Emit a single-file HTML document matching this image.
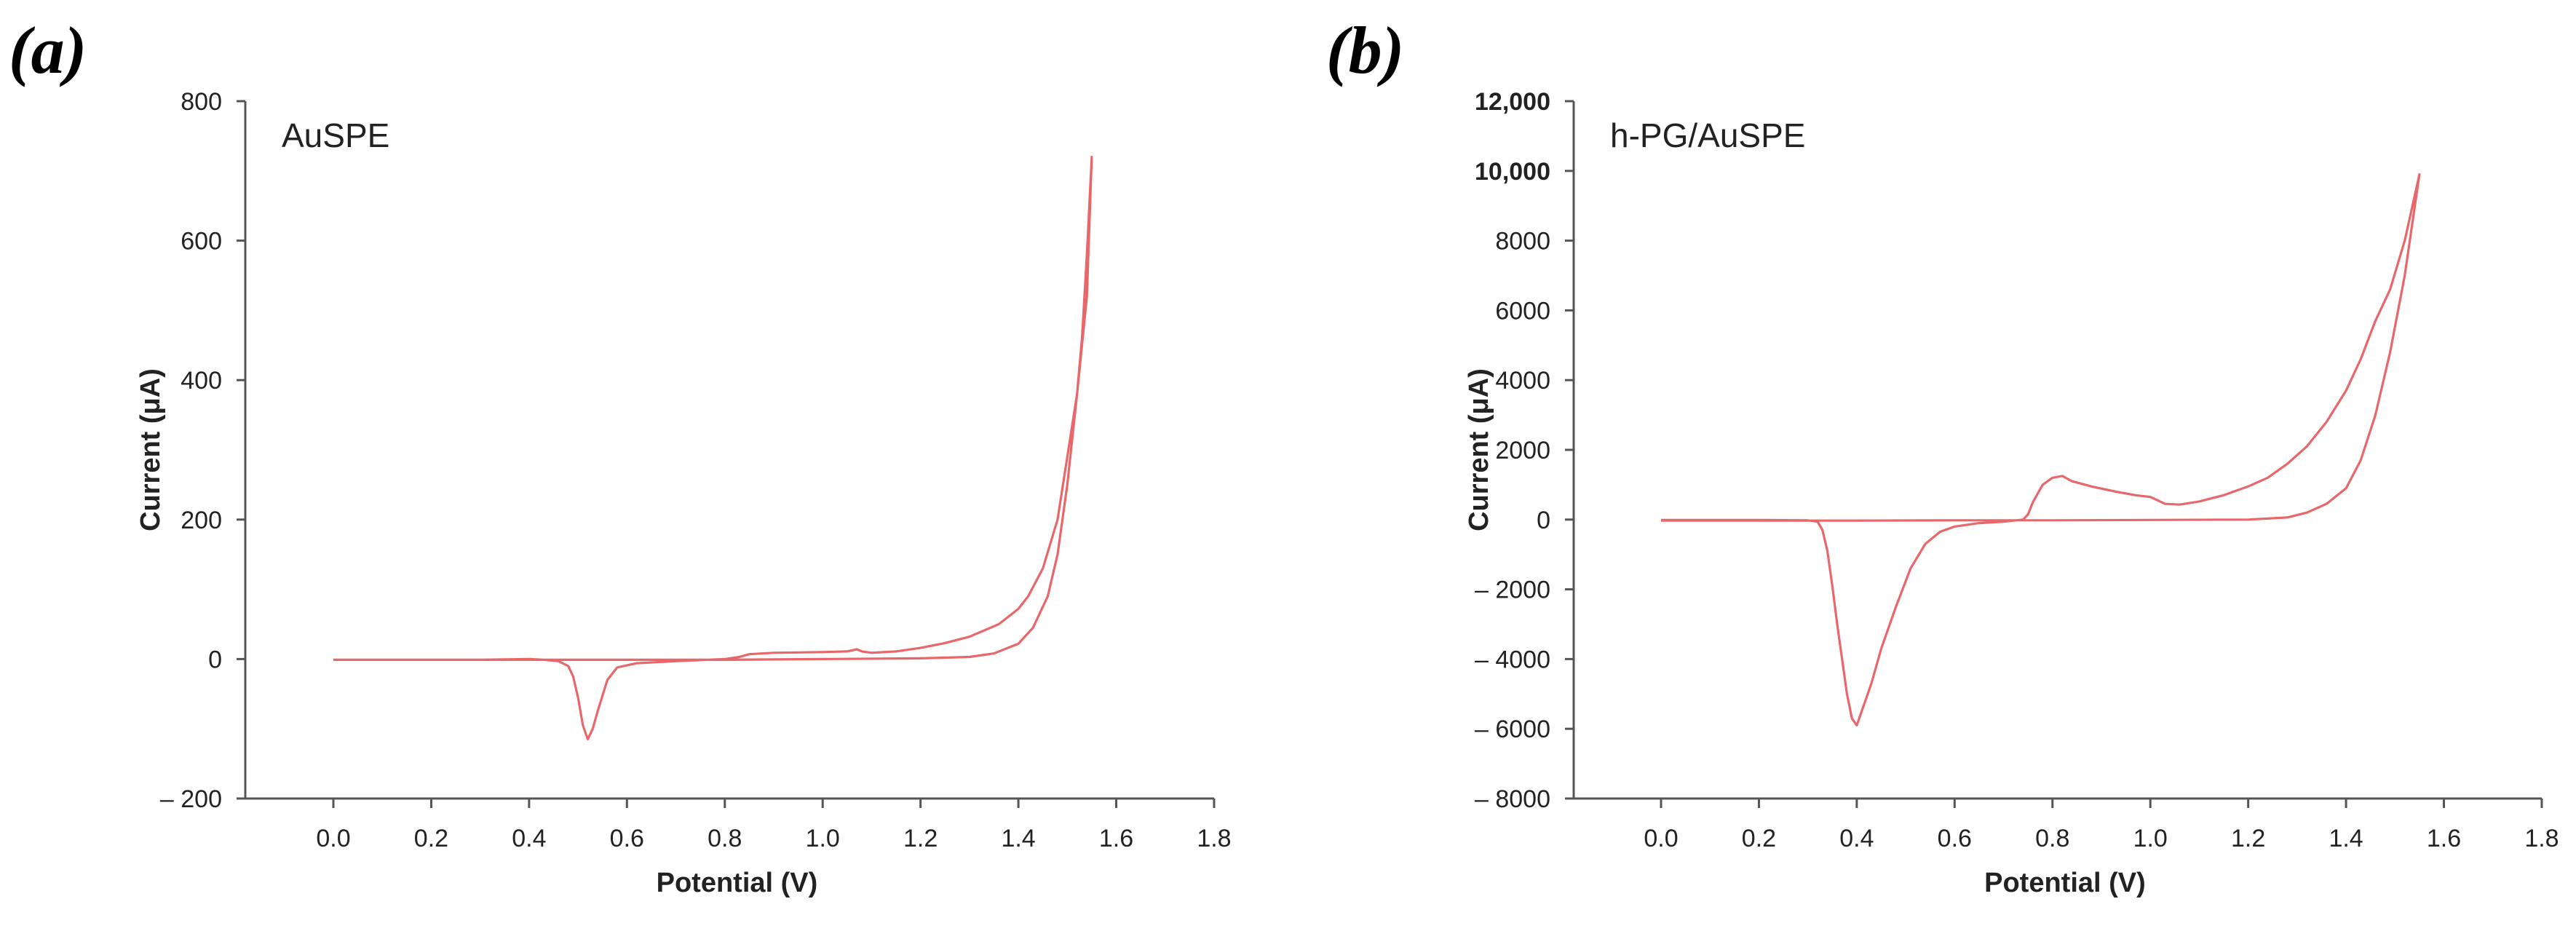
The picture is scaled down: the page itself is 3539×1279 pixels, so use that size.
<!DOCTYPE html>
<html><head><meta charset="utf-8">
<style>
html,body{margin:0;padding:0;background:#fff;}
svg{display:block;}
text{font-family:"Liberation Sans",sans-serif;fill:#222;}
</style></head>
<body>
<svg id="fig" width="3539" height="1279" viewBox="0 0 3539 1279" xmlns="http://www.w3.org/2000/svg">
<text x="12" y="100" style="font-family:'Liberation Serif',serif;font-weight:bold;font-style:italic;font-size:92px;fill:#000">(a)</text>
<text x="1822" y="100" style="font-family:'Liberation Serif',serif;font-weight:bold;font-style:italic;font-size:92px;fill:#000">(b)</text>
<g id="pa"></g>
<g id="pb"></g>
</svg>
<script>
// Shared x-axis ticks
const xTicks = [0.0,0.2,0.4,0.6,0.8,1.0,1.2,1.4,1.6,1.8];
const xTickLabels = ["0.0","0.2","0.4","0.6","0.8","1.0","1.2","1.4","1.6","1.8"];
// Panel A (AuSPE)
const aYTicks = [800,600,400,200,0,-200];
const aYTickLabels = ["800","600","400","200","0","\u2013 200"];
const aFwdV = [0,0.2,0.4,0.6,0.8,1.0,1.2,1.3,1.35,1.4,1.43,1.46,1.48,1.5,1.52,1.53,1.54,1.55];
const aFwdI = [-1,-1,-1,-1,-1,0,1,3,8,22,45,90,150,250,380,460,580,720];
const aRevV = [1.55,1.54,1.52,1.5,1.48,1.45,1.42,1.4,1.36,1.3,1.25,1.2,1.15,1.1,1.08,1.07,1.05,1.0,0.9,0.85,0.83,0.8,0.7,0.62,0.58,0.56,0.54,0.53,0.52,0.51,0.5,0.49,0.48,0.46,0.43,0.4,0.3,0.2,0.1,0];
const aRevI = [720,520,380,290,200,130,90,72,50,32,23,16,11,9,11,14,11,10,9,7,3,0,-3,-6,-12,-30,-75,-100,-115,-95,-55,-25,-10,-3,-1,0,-1,-1,-1,-1];
// Panel B (h-PG/AuSPE)
const bYTicks = [12000,10000,8000,6000,4000,2000,0,-2000,-4000,-6000,-8000];
const bYTickLabels = ["12,000","10,000","8000","6000","4000","2000","0","\u2013 2000","\u2013 4000","\u2013 6000","\u2013 8000"];
const bFwdV = [0,0.2,0.4,0.6,0.8,1.0,1.2,1.28,1.32,1.36,1.4,1.43,1.46,1.49,1.52,1.55];
const bFwdI = [-30,-30,-30,-20,-20,-10,0,60,200,450,900,1700,3000,4800,7000,9900];
const bRevV = [1.55,1.52,1.49,1.46,1.43,1.4,1.36,1.32,1.28,1.24,1.2,1.15,1.1,1.06,1.03,1.0,0.97,0.93,0.88,0.84,0.82,0.8,0.78,0.76,0.75,0.74,0.7,0.65,0.6,0.57,0.54,0.51,0.48,0.45,0.43,0.41,0.4,0.39,0.38,0.37,0.36,0.35,0.34,0.33,0.32,0.3,0.2,0.1,0];
const bRevI = [9900,8000,6600,5700,4600,3700,2800,2100,1600,1200,950,700,520,430,450,650,700,800,950,1100,1250,1200,1000,500,150,0,-60,-100,-200,-350,-700,-1400,-2500,-3700,-4700,-5500,-5900,-5700,-5000,-4000,-3000,-1900,-900,-300,-60,-20,-10,-10,-10];

const NS = "http://www.w3.org/2000/svg";
function mk(parent, tag, attrs){
  const e = document.createElementNS(NS, tag);
  for (const k in attrs) e.setAttribute(k, attrs[k]);
  parent.appendChild(e);
  return e;
}
function drawPanel(g, cfg){
  const xs = v => cfg.x0 + v * cfg.xs;
  const ys = i => cfg.yTop + (cfg.yMax - i) / (cfg.yMax - cfg.yMin) * (cfg.yBot - cfg.yTop);
  const axY = mk(g,'line',{x1:cfg.axL,y1:cfg.yTop,x2:cfg.axL,y2:cfg.yBot,stroke:'#555','stroke-width':3});
  
  
  const axX = mk(g,'line',{x1:cfg.axL-12,y1:cfg.yBot,x2:xs(1.8),y2:cfg.yBot,stroke:'#555','stroke-width':3});
  
  
  cfg.yTicks.forEach((t, i) => {
    const y = ys(t);
    const tk = mk(g,'line',{x1:cfg.axL-12,y1:y,x2:cfg.axL,y2:y,stroke:'#555','stroke-width':3});
    
    
    const tx = mk(g,'text',{x:cfg.axL-32,y:y+12,'text-anchor':'end','font-size':34});
    
    
    if (cfg.boldTop && t >= 10000) tx.setAttribute('font-weight','bold');
    tx.textContent = cfg.yLabels[i];
  });
  xTicks.forEach((t, i) => {
    const x = xs(t);
    const tk = mk(g,'line',{x1:x,y1:cfg.yBot,x2:x,y2:cfg.yBot+13,stroke:'#555','stroke-width':3});
    
    
    const tx = mk(g,'text',{x:x,y:1163,'text-anchor':'middle','font-size':34});
    
    
    tx.textContent = xTickLabels[i];
  });
  const yt = mk(g,'text',{transform:`translate(${cfg.axL-118},618) rotate(-90)`,'text-anchor':'middle','font-size':38,'font-weight':'bold'});
  
  
  yt.textContent = 'Current (\u03bcA)';
  const xt = mk(g,'text',{x:(cfg.axL + xs(1.8))/2 + 10,y:1225,'text-anchor':'middle','font-size':38,'font-weight':'bold'});
  
  
  xt.textContent = 'Potential (V)';
  const lb = mk(g,'text',{x:cfg.axL+50,y:202,'font-size':46});
  
  
  lb.textContent = cfg.title;
  const pts = [];
  cfg.fV.forEach((v, i) => pts.push(xs(v).toFixed(1) + ',' + ys(cfg.fI[i]).toFixed(1)));
  cfg.rV.forEach((v, i) => pts.push(xs(v).toFixed(1) + ',' + ys(cfg.rI[i]).toFixed(1)));
  const pl = mk(g,'polyline',{points:pts.join(' '),fill:'none',stroke:'#e8676b','stroke-width':3.2,'stroke-linejoin':'round'});
  
  
}
drawPanel(document.getElementById('pa'), {id:'chart-a', axL:337, x0:458, xs:672.2, yTop:139, yBot:1097, yMax:800, yMin:-200,
  yTicks:aYTicks, yLabels:aYTickLabels, fV:aFwdV, fI:aFwdI, rV:aRevV, rI:aRevI, title:'AuSPE'});
drawPanel(document.getElementById('pb'), {id:'chart-b', axL:2162, x0:2282, xs:672.2, yTop:139, yBot:1097, yMax:12000, yMin:-8000,
  yTicks:bYTicks, yLabels:bYTickLabels, fV:bFwdV, fI:bFwdI, rV:bRevV, rI:bRevI, title:'h-PG/AuSPE', boldTop:true});
</script>
</body></html>
